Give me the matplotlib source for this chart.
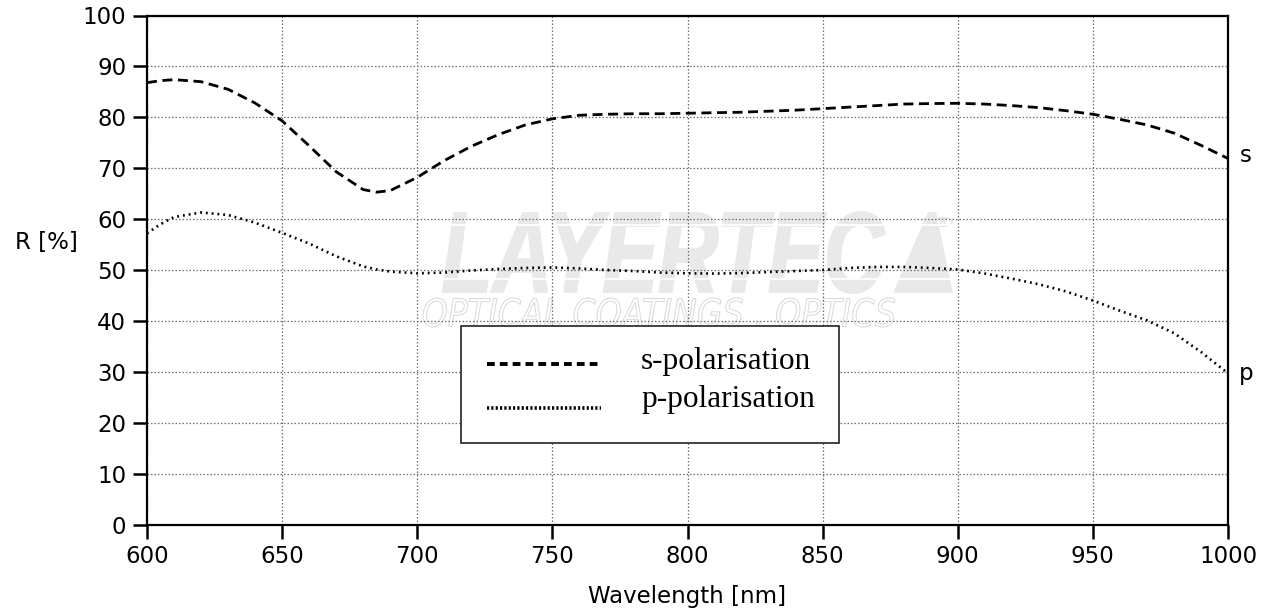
import matplotlib
matplotlib.use("Agg")
import matplotlib.pyplot as plt
from matplotlib.patches import Rectangle, Polygon, PathPatch, Circle
from matplotlib.lines import Line2D
from matplotlib.textpath import TextPath
from matplotlib.font_manager import FontProperties
from matplotlib.transforms import Affine2D

wavelength = [600, 605, 610, 620, 630, 640, 650, 660, 670, 680, 685, 690, 700, 710, 720, 730,
              740, 750, 760, 770, 780, 790, 800, 810, 820, 830, 840, 850, 860, 870,
              880, 890, 900, 910, 920, 930, 940, 950, 960, 970, 980, 990, 1000]
s_pol = [86.8, 87.2, 87.4, 87.0, 85.5, 82.8, 79.3, 74.4, 69.3, 65.8, 65.3, 65.6, 68.2, 71.5, 74.3, 76.6,
         78.5, 79.7, 80.4, 80.6, 80.7, 80.7, 80.8, 80.9, 81.0, 81.2, 81.4, 81.7, 82.0, 82.3,
         82.6, 82.7, 82.75, 82.6, 82.3, 81.9, 81.3, 80.6, 79.6, 78.5, 76.9, 74.5, 71.9]
p_pol = [57.2, 59.0, 60.4, 61.3, 60.8, 59.3, 57.3, 55.2, 52.7, 50.7, 50.1, 49.7, 49.35, 49.5, 49.9, 50.2,
         50.4, 50.5, 50.3, 50.0, 49.8, 49.5, 49.35, 49.3, 49.4, 49.6, 49.8, 50.0, 50.4, 50.6,
         50.6, 50.4, 50.1, 49.3, 48.3, 47.2, 45.8, 44.0, 42.0, 40.1, 37.6, 33.9, 29.7]

x_ticks = [600, 650, 700, 750, 800, 850, 900, 950, 1000]
y_ticks = [0, 10, 20, 30, 40, 50, 60, 70, 80, 90, 100]
legend_labels = ["s-polarisation", "p-polarisation"]
end_labels = ["s", "p"]

sans = ["DejaVu Sans"]
serif = ["Liberation Serif", "DejaVu Serif"]
FS = 16.5

fig = plt.figure(figsize=(12.74, 6.11), dpi=100)
ax = fig.add_axes([147 / 1274, 1 - 524.5 / 611, 1081 / 1274, 509 / 611])


def fx(px):
    return (px - 147) / 1081


def fy(py):
    return (524.5 - py) / 509


def fitted_text(text, box, prop, **kw):
    """Draw text as a path fitted into a pixel box (x0, ytop, x1, ybottom)."""
    tp = TextPath((0, 0), text, size=1, prop=prop)
    ext = tp.get_extents()
    X0, X1 = fx(box[0]), fx(box[2])
    Y0, Y1 = fy(box[3]), fy(box[1])
    tr = (Affine2D().translate(-ext.x0, -ext.y0)
          .scale((X1 - X0) / ext.width, (Y1 - Y0) / ext.height)
          .translate(X0, Y0) + ax.transAxes)
    ax.add_patch(PathPatch(tp, transform=tr, **kw))


# watermark logo (gray letters, white stripes, triangle)
gray = "#e9e9e9"
fitted_text("LAYERTEC", (443, 212, 885, 293),
            FontProperties(family="Liberation Sans", weight="bold", style="italic"),
            facecolor=gray, edgecolor=gray, lw=1.5, zorder=0)
ax.add_patch(Polygon([[fx(893), fy(293)], [fx(928), fy(212)], [fx(936), fy(212)], [fx(953), fy(293)]],
                     closed=True, transform=ax.transAxes, facecolor=gray, edgecolor="none", zorder=0))
for yy in (225, 279):
    ax.add_line(Line2D([fx(440), fx(955)], [fy(yy)] * 2, transform=ax.transAxes,
                       color="white", lw=1.3, zorder=0.15))
fitted_text("OPTICAL COATINGS . OPTICS", (423, 298, 895, 327),
            FontProperties(family="DejaVu Sans", weight="light", style="italic"),
            facecolor="white", edgecolor="#d8d8d8", lw=0.7, zorder=0.1)
ax.add_patch(Circle((fx(943), fy(222)), 0.0085, transform=ax.transAxes, facecolor="none",
                    edgecolor="#dddddd", lw=0.8, zorder=0.1))
ax.text(fx(943), fy(222), "R", transform=ax.transAxes, ha="center", va="center",
        fontsize=8, color="#dddddd", family=sans, zorder=0.1)

ax.plot(wavelength, s_pol, color="black", lw=2.0, linestyle=(0, (3.6, 2.0)), zorder=3)
ax.plot(wavelength, p_pol, color="black", lw=1.9, linestyle=(0, (0.7, 1.5)),
        dash_capstyle="butt", zorder=3)

ax.annotate(end_labels[0], xy=(wavelength[-1], s_pol[-1]), xytext=(13, 2),
            textcoords="offset points", ha="center", va="center", fontsize=FS, family=sans,
            annotation_clip=False)
ax.annotate(end_labels[1], xy=(wavelength[-1], p_pol[-1]), xytext=(13, 0),
            textcoords="offset points", ha="center", va="center", fontsize=FS, family=sans,
            annotation_clip=False)

ax.set_xlim(600, 1000)
ax.set_ylim(0, 100)
ax.set_xticks(x_ticks)
ax.set_yticks(y_ticks)
ax.grid(True, color="#6f6f6f", linestyle=(0, (1.2, 1.6)), linewidth=0.9, zorder=1)
ax.set_axisbelow(True)
for sp in ax.spines.values():
    sp.set_linewidth(1.6)
    sp.set_zorder(4)
ax.tick_params(axis="both", direction="out", length=10, width=1.8, labelsize=FS)
ax.tick_params(axis="y", pad=5)
ax.tick_params(axis="x", pad=5)
for lab in ax.get_xticklabels() + ax.get_yticklabels():
    lab.set_family(sans)

ax.set_xlabel("Wavelength [nm]", fontsize=FS, family=sans)
ax.xaxis.set_label_coords(0.5, (524.5 - 597) / 509)
ax.xaxis.label.set_va("center")
ax.set_ylabel("R [%]", fontsize=FS, family=sans, rotation=0)
ax.yaxis.set_label_coords((46 - 147) / 1081, (524.5 - 243) / 509)
ax.yaxis.label.set_va("center")
ax.yaxis.label.set_ha("center")

# legend box
ax.add_patch(Rectangle((fx(460.7), fy(442.7)), fx(839) - fx(460.7), fy(326) - fy(442.7),
                       transform=ax.transAxes, facecolor="white", edgecolor="#222222",
                       lw=1.2, zorder=4))
ax.add_line(Line2D([fx(487), fx(601)], [fy(364.3)] * 2, transform=ax.transAxes, color="black",
                   lw=2.8, linestyle=(0, (2.0, 1.3)), zorder=5))
ax.add_line(Line2D([fx(487), fx(601)], [fy(408.3)] * 2, transform=ax.transAxes, color="black",
                   lw=2.6, linestyle=(0, (0.6, 0.6)), zorder=5))
ax.text(fx(641), fy(362), legend_labels[0], transform=ax.transAxes, ha="left", va="center",
        fontsize=22.5, family=serif, zorder=5)
ax.text(fx(641), fy(399), legend_labels[1], transform=ax.transAxes, ha="left", va="center",
        fontsize=22.5, family=serif, zorder=5)

fig.savefig("out.png", dpi=100)
